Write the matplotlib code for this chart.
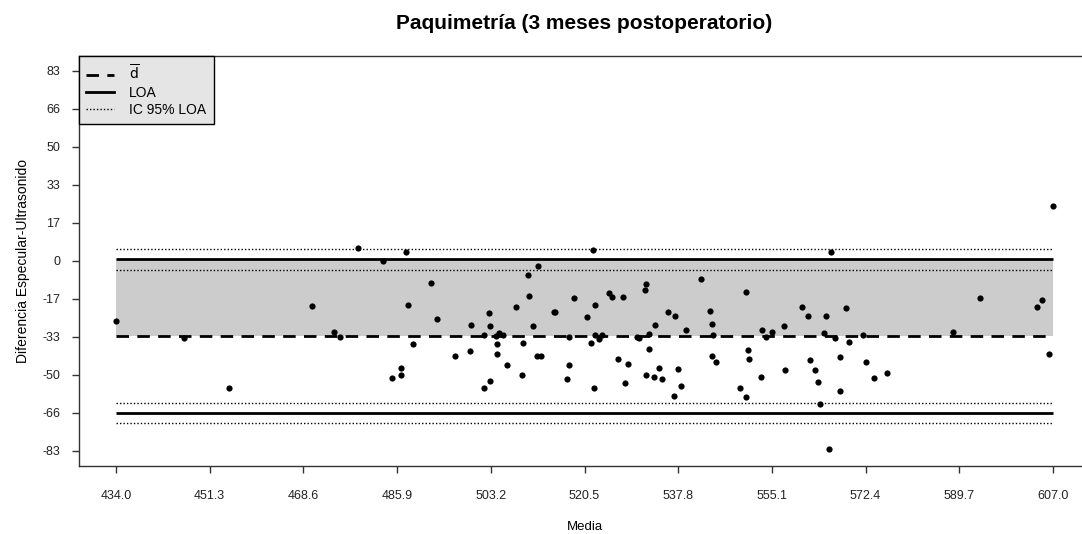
import matplotlib
matplotlib.use("Agg")
import matplotlib.pyplot as plt
from matplotlib.lines import Line2D

plt.rcParams["font.family"] = ["Liberation Sans", "DejaVu Sans"]

# medias y diferencias (especular - ultrasonido)
media = [
    434.0, 446.5, 454.9, 470.1, 474.3, 475.4, 478.7, 483.3, 484.9, 486.7,
    486.7, 487.5, 488.0, 488.8, 492.1, 493.2, 496.5, 499.5, 499.3, 502.8,
    503.0, 501.9, 501.9, 503.0, 504.3, 504.3, 504.8, 505.4, 504.2, 506.1,
    507.9, 509.2, 508.9, 510.0, 510.2, 512.0, 510.9, 511.8, 512.4, 514.8,
    515.1, 517.6, 517.6, 517.2, 518.5, 520.9, 522.0, 522.5, 521.7, 522.5,
    523.1, 523.8, 522.2, 525.0, 525.5, 527.7, 526.6, 528.5, 527.9, 530.2,
    530.6, 531.9, 531.6, 532.5, 532.5, 531.8, 533.6, 533.4, 534.3, 534.9,
    535.9, 537.2, 537.7, 538.3, 537.0, 539.2, 542.1, 543.6, 544.0, 544.3,
    544.0, 544.7, 549.3, 550.3, 550.6, 550.9, 550.3, 553.0, 553.3, 554.1,
    555.1, 557.3, 557.5, 560.6, 561.7, 562.1, 563.0, 563.7, 563.9, 564.8,
    565.0, 566.0, 565.7, 566.7, 567.6, 567.6, 568.7, 569.4, 571.9, 572.4,
    573.9, 576.3, 588.6, 593.5, 604.0, 604.9, 606.3, 607.0,
]
diferencia = [
    -26.1, -33.8, -55.5, -19.9, -31.1, -33.2, 5.4, 0.1, -51.4, -46.7,
    -49.8, 3.9, -19.3, -36.4, -9.6, -25.5, -41.5, -28.1, -39.4, -23.0,
    -28.5, -32.3, -55.5, -52.4, -36.4, -40.5, -31.7, -32.6, -32.8, -45.6,
    -20.4, -35.8, -49.8, -6.4, -15.3, -2.2, -28.5, -41.5, -41.5, -22.4,
    -22.4, -33.2, -45.6, -51.8, -16.2, -24.5, 4.9, -19.3, -35.8, -32.2,
    -34.2, -32.6, -55.5, -14.1, -15.7, -15.7, -43.1, -45.1, -53.3, -33.2,
    -33.8, -10.0, -12.7, -31.9, -38.4, -49.8, -28.1, -50.8, -46.7, -51.8,
    -22.4, -24.0, -47.3, -54.9, -59.1, -30.1, -8.0, -22.0, -27.7, -32.3,
    -41.5, -44.1, -55.5, -13.7, -39.0, -43.1, -59.5, -50.8, -30.1, -33.2,
    -31.1, -28.5, -47.6, -20.4, -24.0, -43.5, -47.6, -52.8, -62.6, -31.6,
    -24.0, 3.9, -82.2, -33.8, -42.1, -56.9, -20.8, -35.4, -32.2, -44.1,
    -51.4, -48.8, -31.1, -16.3, -20.4, -17.2, -40.9, 24.0,
]

d_media = -32.8
loa_sup = 0.8
loa_inf = -66.4
ic_loa_sup = [-3.9, 5.2]
ic_loa_inf = [-70.7, -62.0]

x_ticks = [434.0, 451.3, 468.6, 485.9, 503.2, 520.5, 537.8, 555.1, 572.4, 589.7, 607.0]
y_ticks = [-83.0, -66.4, -49.8, -33.2, -16.6, 0.0, 16.6, 33.2, 49.8, 66.4, 83.0]
y_labels = ["-83", "-66", "-50", "-33", "-17", "0", "17", "33", "50", "66", "83"]

W, H = 1082, 534
fig = plt.figure(figsize=(W / 100, H / 100), dpi=100)
ax = fig.add_axes([78.5 / W, 68 / H, 1012 / W, 410.4 / H])

x0, x1 = min(media), max(media)
rng = x1 - x0
ax.set_xlim(x0 - 0.04 * rng, x1 + 0.04 * rng)
ax.set_ylim(-83 * 1.08, 83 * 1.08)

ax.fill_between([x0, x1], d_media, loa_sup, color="#cccccc", lw=0, zorder=1)
ax.hlines(d_media, x0, x1, colors="black", lw=2, linestyles=(0, (4.5, 3)), zorder=2)
ax.hlines([loa_sup, loa_inf], x0, x1, colors="black", lw=2, zorder=2)
ax.hlines(ic_loa_sup + ic_loa_inf, x0, x1, colors="black", lw=1,
          linestyles=(0, (1, 1.5)), zorder=2)
ax.scatter(media, diferencia, s=20, color="black", lw=0, zorder=3)

ax.spines["right"].set_visible(False)
for s in ["left", "bottom", "top"]:
    ax.spines[s].set_color("#333333")
    ax.spines[s].set_linewidth(1)

ax.set_xticks(x_ticks)
ax.set_xticklabels([f"{v:.1f}" for v in x_ticks])
ax.set_yticks(y_ticks)
ax.set_yticklabels(y_labels)
ax.tick_params(direction="out", length=5, width=1, color="#333333",
               labelsize=9, labelcolor="#222222")
ax.tick_params(axis="x", pad=12)
ax.tick_params(axis="y", pad=8)

ax.set_xlabel("Media", fontsize=9.5, labelpad=14)
ax.set_ylabel("Diferencia Especular-Ultrasonido", fontsize=10, labelpad=9)
ax.set_title("Paquimetría (3 meses postoperatorio)", fontsize=15,
             fontweight="bold", pad=19)

handles = [
    Line2D([], [], color="black", lw=2, linestyle=(0, (4.5, 3))),
    Line2D([], [], color="black", lw=2),
    Line2D([], [], color="black", lw=1, linestyle=(0, (1, 1.5))),
]
leg = ax.legend(handles, [r"$\overline{\mathrm{d}}$", "LOA", "IC 95% LOA"],
                loc="upper left", bbox_to_anchor=(0, 1), borderaxespad=0,
                fontsize=10, handlelength=2.0, handletextpad=1.1,
                labelspacing=0.22, borderpad=0.55, fancybox=False)
leg.get_frame().set_facecolor("#e5e5e5")
leg.get_frame().set_edgecolor("black")
leg.get_frame().set_alpha(1)
leg.get_frame().set_linewidth(1)

fig.savefig("out.png", dpi=100)
